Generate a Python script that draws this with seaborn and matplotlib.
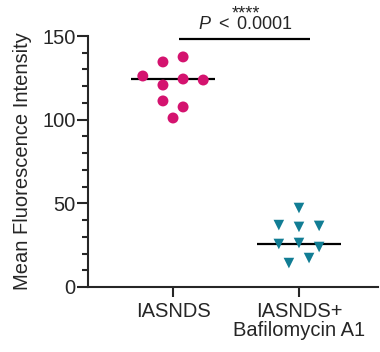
import numpy as np
import pandas as pd
import matplotlib
matplotlib.use("Agg")
import matplotlib.pyplot as plt
import seaborn as sns
from matplotlib.ticker import MultipleLocator

categories = ["IASNDS", "IASNDS+\nBafilomycin A1"]
iasnds = [101.0, 111.2, 107.6, 126.1, 120.7, 124.3, 123.7, 134.5, 137.5]
bafilomycin = [47.2, 37.0, 35.9, 36.5, 25.7, 26.3, 23.9, 14.3, 17.3]
medians_shown = [124.3, 25.7]
p_text = r"$P$ $<$ 0.0001"
stars = "****"

colors = ["#D4136F", "#117D94"]
markers = ["o", "v"]


def row_offsets(vals, tol=6.0, step=0.16):
    vals = np.asarray(vals)
    order = np.argsort(vals, kind="stable")
    rows, cur, start = [], [], None
    for i in order:
        if start is None or vals[i] - start > tol:
            if cur:
                rows.append(cur)
            cur, start = [i], vals[i]
        else:
            cur.append(i)
    if cur:
        rows.append(cur)
    off = np.zeros(len(vals))
    for r in rows:
        r = sorted(r)
        n = len(r)
        for k, i in enumerate(r):
            off[i] = (k - (n - 1) / 2) * step
    return off


frames = []
for gi, vals in enumerate([iasnds, bafilomycin]):
    frames.append(pd.DataFrame({
        "group": categories[gi],
        "value": vals,
        "x": gi + row_offsets(vals),
    }))
df = pd.concat(frames, ignore_index=True)

sns.set_style("ticks")
plt.rcParams["font.family"] = ["Liberation Sans", "DejaVu Sans"]
plt.rcParams["mathtext.fontset"] = "custom"
plt.rcParams["mathtext.it"] = "Liberation Sans:italic"
plt.rcParams["mathtext.rm"] = "Liberation Sans"

FS = 14.5

fig = plt.figure(figsize=(3.8, 3.52), dpi=100)
ax = fig.add_axes([0.2316, 0.1847, 0.763, 0.713])

for gi, cat in enumerate(categories):
    sub = df[df["group"] == cat]
    sns.scatterplot(data=sub, x="x", y="value", marker=markers[gi],
                    color=colors[gi], s=62 if gi == 0 else 58,
                    edgecolor="none", linewidth=0, ax=ax, legend=False,
                    zorder=3, clip_on=False)
    ax.plot([gi - 0.33, gi + 0.33], [medians_shown[gi]] * 2,
            color="black", lw=1.6, zorder=2, solid_capstyle="butt")

ax.set_xlim(-0.675, 1.627)
ax.set_ylim(0, 150)
ax.set_xticks([0, 1])
ax.set_xticklabels(categories, fontsize=FS, linespacing=1.0)
ax.yaxis.set_major_locator(MultipleLocator(50))
ax.yaxis.set_minor_locator(MultipleLocator(10))
ax.tick_params(axis="y", which="major", length=8, width=1.5, labelsize=FS, pad=1)
ax.tick_params(axis="y", which="minor", length=4, width=1.5)
ax.tick_params(axis="x", length=7, width=1.5, pad=4)
ax.set_xlabel("")
ax.set_ylabel("Mean Fluorescence Intensity", fontsize=FS, labelpad=7)
for s in ["top", "right"]:
    ax.spines[s].set_visible(False)
for s in ["left", "bottom"]:
    ax.spines[s].set_linewidth(1.5)

ax.plot([0.05, 1.09], [148.2, 148.2], color="black", lw=1.6,
        clip_on=False, solid_capstyle="butt")
ax.text(0.575, 154.0, stars + "\n" + p_text, ha="center", va="baseline",
        multialignment="center", fontsize=13, linespacing=0.55,
        clip_on=False)

fig.savefig("out.png", dpi=100)
